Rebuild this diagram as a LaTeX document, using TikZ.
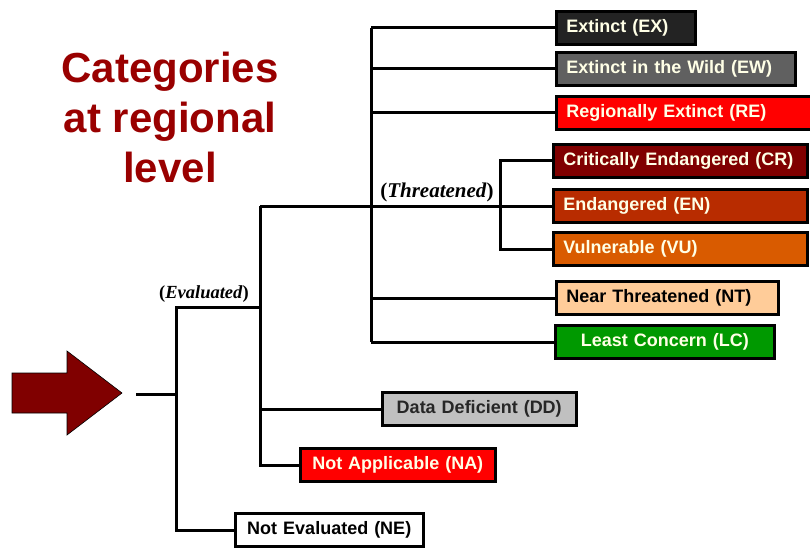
\documentclass[tikz,border=0pt]{standalone}
\usepackage{fontspec}
\setmainfont{Liberation Sans}
\newfontfamily\seriffont{Liberation Serif}
\usetikzlibrary{positioning}
\definecolor{titlered}{HTML}{990000}
\definecolor{arrowred}{HTML}{800000}
\definecolor{cream}{HTML}{FFFFE6}
\definecolor{exgrey}{HTML}{232323}
\definecolor{ewgrey}{HTML}{606060}
\definecolor{rered}{HTML}{FF0000}
\definecolor{crred}{HTML}{800000}
\definecolor{enred}{HTML}{B82C00}
\definecolor{vuorange}{HTML}{D95B00}
\definecolor{ntpeach}{HTML}{FFCC99}
\definecolor{lcgreen}{HTML}{009900}
\definecolor{ddgrey}{HTML}{C0C0C0}
\tikzset{
  catbox/.style={draw=black, line width=2.5pt, inner xsep=10pt, inner ysep=0pt,
    minimum height=33pt, anchor=west, text=cream,
    font=\fontsize{18}{20}\selectfont\bfseries},
  leftbox/.style={catbox, text width=#1, align=left},
  midbox/.style={catbox, text width=#1, align=center},
  link/.style={line width=3pt},
  branchlabel/.style={font=\seriffont\fontsize{#1}{20}\selectfont\bfseries, inner sep=0pt},
}

\begin{document}
\begin{tikzpicture}[x=1pt, y=-1pt]
  \useasboundingbox (0,0) rectangle (810,548);
  % title
  \node[align=center, text=titlered, font=\fontsize{42}{50}\selectfont\bfseries] (title) at (170,117)
    {Categories\\at regional\\level};
  % category boxes
  \node[leftbox=119pt, fill=exgrey] (EX) at (555,28) {Extinct (EX)};
  \node[leftbox=219pt, fill=ewgrey] (EW) at (555,69) {Extinct in the Wild (EW)};
  \node[leftbox=240pt, fill=rered] (RE) at (555,113) {Regionally Extinct (RE)};
  \node[leftbox=234pt, fill=crred] (CR) at (552,161) {Critically Endangered (CR)};
  \node[leftbox=234pt, fill=enred] (EN) at (552,206) {Endangered (EN)};
  \node[leftbox=234pt, fill=vuorange] (VU) at (552,249) {Vulnerable (VU)};
  \node[leftbox=202pt, fill=ntpeach, text=black] (NT) at (555,298) {Near Threatened (NT)};
  \node[midbox=199pt, fill=lcgreen] (LC) at (554,342) {Least Concern (LC)};
  \node[midbox=174pt, fill=ddgrey, text=black!85] (DD) at (381,409) {Data Deficient (DD)};
  \node[midbox=175pt, fill=rered] (NA) at (299,465) {Not Applicable (NA)};
  \node[midbox=168pt, fill=white, text=black] (NE) at (234,530) {Not Evaluated (NE)};
  % branch points
  \coordinate (start) at (136,394);
  \coordinate (evaltop) at (176,307);
  \coordinate (evalend) at (260,307);
  \coordinate (mainbar) at (371,206);
  \coordinate (threat) at (500,206);
  \node[branchlabel=18.5] (evallabel) at (204,294) {(\textit{Evaluated})};
  \node[branchlabel=21] (threatlabel) at (437,192) {(\textit{Threatened})};
  % connectors
  \draw[link] (start) -- (start -| evaltop);
  \draw[link] (evalend) -- (evaltop) |- (NE.west);
  \draw[link] (threat -| evalend) |- (NA.west);
  \draw[link] (DD.west -| evalend) -- (DD.west);
  \draw[link] (threat -| evalend) -- (EN.west);
  \draw[link] (CR.west) -| (threat) |- (VU.west);
  \draw[link] (EX.west -| mainbar) -- (LC.west -| mainbar);
  \foreach \n in {EX,EW,RE,NT,LC}
    \draw[link] (\n.west -| mainbar) -- (\n.west);
  % arrow
  \draw[fill=arrowred, line width=0.6pt] (12,373) -- (67,373) -- (67,351) -- (122,393)
    -- (67,435) -- (67,413) -- (12,413) -- cycle;
\end{tikzpicture}
\end{document}
